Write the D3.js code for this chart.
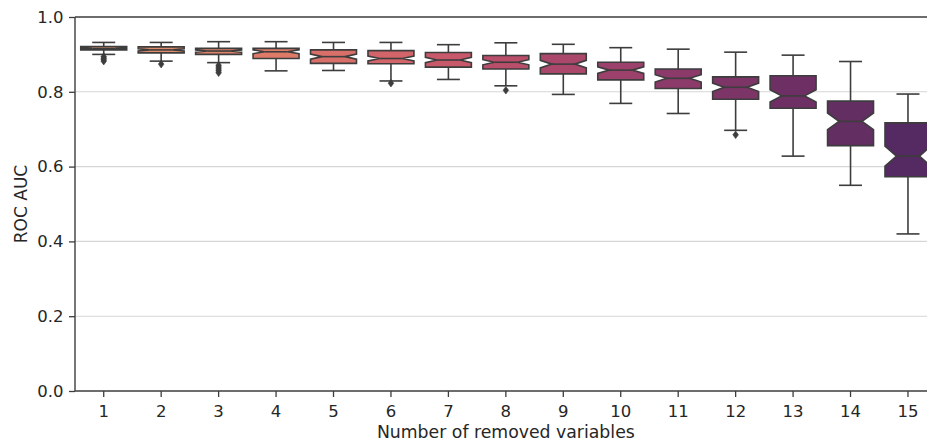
<!DOCTYPE html>
<html>
<head>
<meta charset="utf-8">
<script src="https://cdn.jsdelivr.net/npm/d3@7"></script>
<style>
  html, body { margin: 0; padding: 0; background: #fff; overflow: hidden; }
  svg { display: block; font-family: "DejaVu Sans", sans-serif; }
</style>
</head>
<body>
<svg id="chart" width="927" height="442"></svg>
<script>
// ---- data ----
const categories = ["1","2","3","4","5","6","7","8","9","10","11","12","13","14","15"];
const whiskerHigh = [0.932, 0.932, 0.934, 0.934, 0.932, 0.932, 0.926, 0.931, 0.927, 0.918, 0.914, 0.906, 0.898, 0.881, 0.794];
const q3Values    = [0.921, 0.920, 0.916, 0.916, 0.912, 0.910, 0.905, 0.897, 0.902, 0.879, 0.861, 0.840, 0.843, 0.775, 0.717];
const medians     = [0.916, 0.912, 0.909, 0.907, 0.894, 0.889, 0.885, 0.879, 0.874, 0.858, 0.836, 0.812, 0.789, 0.721, 0.628];
const q1Values    = [0.912, 0.904, 0.900, 0.889, 0.876, 0.875, 0.866, 0.861, 0.848, 0.832, 0.809, 0.780, 0.756, 0.656, 0.573];
const whiskerLow  = [0.900, 0.882, 0.878, 0.856, 0.857, 0.829, 0.833, 0.816, 0.793, 0.769, 0.742, 0.697, 0.628, 0.550, 0.420];
const outliers    = [
  [0.894, 0.890, 0.886, 0.882],
  [0.874],
  [0.871, 0.866, 0.861, 0.856, 0.851],
  [], [],
  [0.823],
  [],
  [0.804],
  [], [], [],
  [0.685],
  [], [], []
];
const sampleSize = 70;
const boxColors = ["#e39670","#e08c6b","#df846a","#dd7b68","#d86f68","#d2646a","#c7596b","#b94e6b","#ab476b","#9c416b","#8b3a69","#7d3467","#6e3064","#632e62","#552a62"];
const yTicks = [0.0, 0.2, 0.4, 0.6, 0.8, 1.0];

// ---- layout ----
const svg = d3.select("#chart");
const padL = 75, padR = 936.7, padT = 17, padB = 391;
const ink = "#3d3d3d", textColor = "#262626";

const x = d3.scaleBand().domain(categories).range([padL, padR]).padding(0);
const y = d3.scaleLinear().domain([0, 1]).range([padB, padT]);

// grid
svg.append("g").selectAll("line").data(yTicks.filter(t => t > 0 && t < 1)).join("line")
  .attr("x1", padL).attr("x2", padR)
  .attr("y1", d => y(d)).attr("y2", d => y(d))
  .attr("stroke", "#d6d6d6").attr("stroke-width", 1.1);

// boxes
const w = x.bandwidth() * 0.8;
const boxes = categories.map((c, i) => {
  const iqr = q3Values[i] - q1Values[i];
  const notch = 1.57 * iqr / Math.sqrt(sampleSize);
  return { c, i, cx: x(c) + x.bandwidth() / 2,
    wl: whiskerLow[i], wh: whiskerHigh[i], q1: q1Values[i], q3: q3Values[i], med: medians[i],
    nlo: medians[i] - notch, nhi: medians[i] + notch, out: outliers[i], color: boxColors[i] };
});

const g = svg.append("g");
boxes.forEach(b => {
  const L = b.cx - w / 2, R = b.cx + w / 2, cL = b.cx - w / 4, cR = b.cx + w / 4;
  g.append("line").attr("x1", b.cx).attr("x2", b.cx).attr("y1", y(b.q1)).attr("y2", y(b.wl))
    .attr("stroke", ink).attr("stroke-width", 1.6);
  g.append("line").attr("x1", b.cx).attr("x2", b.cx).attr("y1", y(b.q3)).attr("y2", y(b.wh))
    .attr("stroke", ink).attr("stroke-width", 1.6);
  g.append("line").attr("x1", cL).attr("x2", cR).attr("y1", y(b.wl)).attr("y2", y(b.wl))
    .attr("stroke", ink).attr("stroke-width", 1.6);
  g.append("line").attr("x1", cL).attr("x2", cR).attr("y1", y(b.wh)).attr("y2", y(b.wh))
    .attr("stroke", ink).attr("stroke-width", 1.6);
  const pts = [[L, b.q1], [R, b.q1], [R, b.nlo], [cR, b.med], [R, b.nhi], [R, b.q3],
               [L, b.q3], [L, b.nhi], [cL, b.med], [L, b.nlo], [L, b.q1]];
  const line = d3.line().x(p => p[0]).y(p => y(p[1]));
  g.append("path").attr("d", line(pts) + "Z")
    .attr("fill", b.color).attr("stroke", ink).attr("stroke-width", 1.6)
    .attr("stroke-linejoin", "miter");
  g.append("line").attr("x1", cL).attr("x2", cR).attr("y1", y(b.med)).attr("y2", y(b.med))
    .attr("stroke", ink).attr("stroke-width", 1.6);
  g.selectAll(null).data(b.out).join("path")
    .attr("d", d => {
      const py = y(d), hw = 2.8, hh = 3.8;
      return `M${b.cx},${py - hh}L${b.cx + hw},${py}L${b.cx},${py + hh}L${b.cx - hw},${py}Z`;
    })
    .attr("fill", ink).attr("stroke", ink).attr("stroke-width", 0.6);
});

// axes
const yAxis = d3.axisLeft(y).tickValues(yTicks).tickFormat(d3.format(".1f")).tickSize(6).tickPadding(5.5);
const yg = svg.append("g").attr("transform", `translate(${padL},0)`).call(yAxis);
const xAxis = d3.axisBottom(x).tickSize(6).tickPadding(8);
const xg = svg.append("g").attr("transform", `translate(0,${padB})`).call(xAxis);
[yg, xg].forEach(a => {
  a.select(".domain").remove();
  a.selectAll(".tick line").attr("stroke", ink).attr("stroke-width", 1.3);
  a.selectAll(".tick text").attr("fill", textColor).style("font-size", "16.5px")
    .style("font-family", "'DejaVu Sans', sans-serif");
});

// spines
svg.append("line").attr("x1", padL).attr("x2", padL).attr("y1", padT).attr("y2", padB)
  .attr("stroke", ink).attr("stroke-width", 1.4);
svg.append("line").attr("x1", padL).attr("x2", padR).attr("y1", padB).attr("y2", padB)
  .attr("stroke", ink).attr("stroke-width", 1.4);
svg.append("line").attr("x1", padL).attr("x2", padR).attr("y1", padT).attr("y2", padT)
  .attr("stroke", ink).attr("stroke-width", 1.4);

// axis labels
svg.append("text").attr("x", (padL + padR) / 2).attr("y", 437.5)
  .attr("text-anchor", "middle").attr("fill", textColor).style("font-size", "17.3px")
  .text("Number of removed variables");
svg.append("text").attr("transform", `translate(27,${(padT + padB) / 2}) rotate(-90)`)
  .attr("text-anchor", "middle").attr("fill", textColor).style("font-size", "17px")
  .text("ROC AUC");
</script>
</body>
</html>
